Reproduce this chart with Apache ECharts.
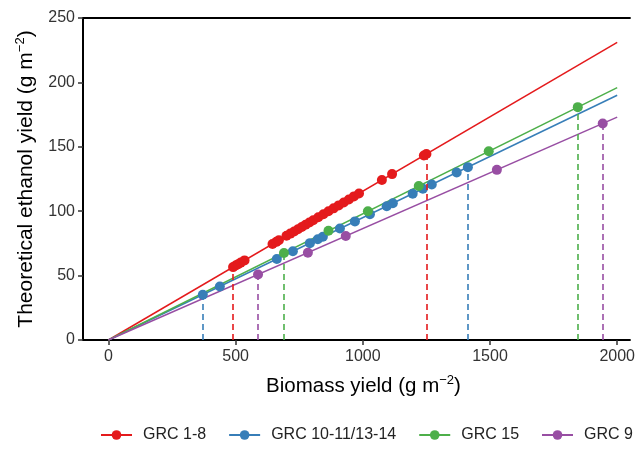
<!DOCTYPE html>
<html>
<head>
<meta charset="utf-8">
<script src="https://cdn.jsdelivr.net/npm/echarts@6/dist/echarts.min.js"></script>
<style>
  html, body { margin: 0; padding: 0; background: #fff; }
  #chart { width: 638px; height: 460px; }
</style>
</head>
<body>
<div id="chart"></div>
<script>
// groups
const groupNames = ['GRC 1-8', 'GRC 10-11/13-14', 'GRC 15', 'GRC 9'];
const groupColors = ['#E41A1C', '#377EB8', '#4DAF4A', '#984EA3'];

// biomass (x) and ethanol (y) per group
const redX = [490, 500, 510, 520, 535, 645, 660, 670, 700, 715, 730, 745, 760, 775, 790,
  805, 825, 845, 865, 885, 905, 925, 945, 965, 985, 1075, 1115, 1240, 1250];
const redY = [56.6, 57.8, 58.9, 60.1, 61.8, 74.5, 76.2, 77.4, 80.9, 82.6, 84.3, 86.0, 87.8, 89.5, 91.2,
  93.0, 95.3, 97.6, 99.9, 102.2, 104.5, 106.8, 109.1, 111.5, 113.8, 124.2, 128.8, 143.2, 144.4];
const blueX = [371, 438, 662, 725, 792, 823, 843, 910, 969, 1028, 1094, 1118, 1196, 1236, 1271, 1369, 1413];
const blueY = [35.2, 41.6, 62.9, 68.9, 75.2, 78.2, 80.1, 86.5, 92.1, 97.7, 103.9, 106.2, 113.6, 117.4, 120.7, 130.1, 134.2];
const greenX = [690, 865, 1020, 1220, 1495, 1845];
const greenY = [67.6, 84.8, 100.0, 119.6, 146.5, 180.8];
const purpleX = [588, 784, 933, 1527, 1943];
const purpleY = [50.9, 67.8, 80.7, 132.1, 168.1];

// fitted lines through the origin, value at x = 2000
const fitEnd = [231, 190, 196, 173];
const fitX = [0, 2000];

const xTicks = [0, 500, 1000, 1500, 2000];

const groupsX = [redX, blueX, greenX, purpleX];
const groupsY = [redY, blueY, greenY, purpleY];

const series = [];
groupNames.forEach((name, i) => {
  series.push({
    name: name,
    type: 'line',
    data: [[fitX[0], 0], [fitX[1], fitEnd[i]]],
    showSymbol: false,
    symbol: 'circle',
    symbolSize: 10,
    lineStyle: { width: 1.5, color: groupColors[i] },
    itemStyle: { color: groupColors[i] },
    silent: true,
    z: 2
  });
});
groupNames.forEach((name, i) => {
  const xs = groupsX[i], ys = groupsY[i];
  const last = xs.length - 1;
  series.push({
    name: name,
    type: 'scatter',
    data: xs.map((x, k) => [x, ys[k]]),
    symbolSize: 10,
    itemStyle: { color: groupColors[i], opacity: 1 },
    z: 4,
    markLine: {
      silent: true,
      symbol: 'none',
      label: { show: false },
      lineStyle: { type: [6, 4], width: 1.6, color: groupColors[i] },
      data: [
        [{ coord: [xs[0], 0] }, { coord: [xs[0], ys[0]] }],
        [{ coord: [xs[last], 0] }, { coord: [xs[last], ys[last]] }]
      ]
    }
  });
});

const supStyle = { fontSize: 13, verticalAlign: 'top', padding: [0, 0, 11, 0], color: '#000' };

const chart = echarts.init(document.getElementById('chart'));
chart.setOption({
  animation: false,
  color: groupColors,
  textStyle: { fontFamily: 'Liberation Sans, Arial, sans-serif' },
  grid: { left: 83, right: 8, top: 18, bottom: 120 },
  legend: {
    data: groupNames,
    left: 95,
    top: 422,
    itemWidth: 31,
    itemHeight: 12,
    itemGap: 22,
    textStyle: { fontSize: 16, color: '#222', padding: [0, 0, 0, 6] }
  },
  xAxis: [{
    type: 'value',
    min: -100,
    max: 2050,
    name: 'Biomass yield (g m{sup|−2})',
    nameLocation: 'middle',
    nameGap: 34,
    nameTextStyle: { fontSize: 20.5, color: '#000', rich: { sup: supStyle }, padding: [0, 0, 0, 14] },
    axisLine: { show: true, onZero: false, lineStyle: { color: '#000', width: 2 } },
    axisTick: { show: true, length: 5, customValues: xTicks, lineStyle: { color: '#333', width: 1.5 } },
    axisLabel: { customValues: xTicks, fontSize: 16, color: '#333', margin: 9, formatter: v => String(v) },
    splitLine: { show: false }
  }, {
    type: 'value',
    position: 'top',
    min: -100,
    max: 2050,
    axisLine: { show: true, onZero: false, lineStyle: { color: '#000', width: 2 } },
    axisTick: { show: false },
    axisLabel: { show: false },
    splitLine: { show: false }
  }],
  yAxis: {
    type: 'value',
    min: 0,
    max: 250,
    interval: 50,
    name: 'Theoretical ethanol yield (g m{sup|−2})',
    nameLocation: 'middle',
    nameGap: 45,
    nameTextStyle: { fontSize: 21, color: '#000', rich: { sup: supStyle } },
    axisLine: { show: true, onZero: false, lineStyle: { color: '#000', width: 2 } },
    axisTick: { show: true, length: 5, lineStyle: { color: '#333', width: 1.5 } },
    axisLabel: { fontSize: 16, color: '#333', margin: 8 },
    splitLine: { show: false }
  },
  series: series
});
window.addEventListener('resize', () => chart.resize());
</script>
</body>
</html>
